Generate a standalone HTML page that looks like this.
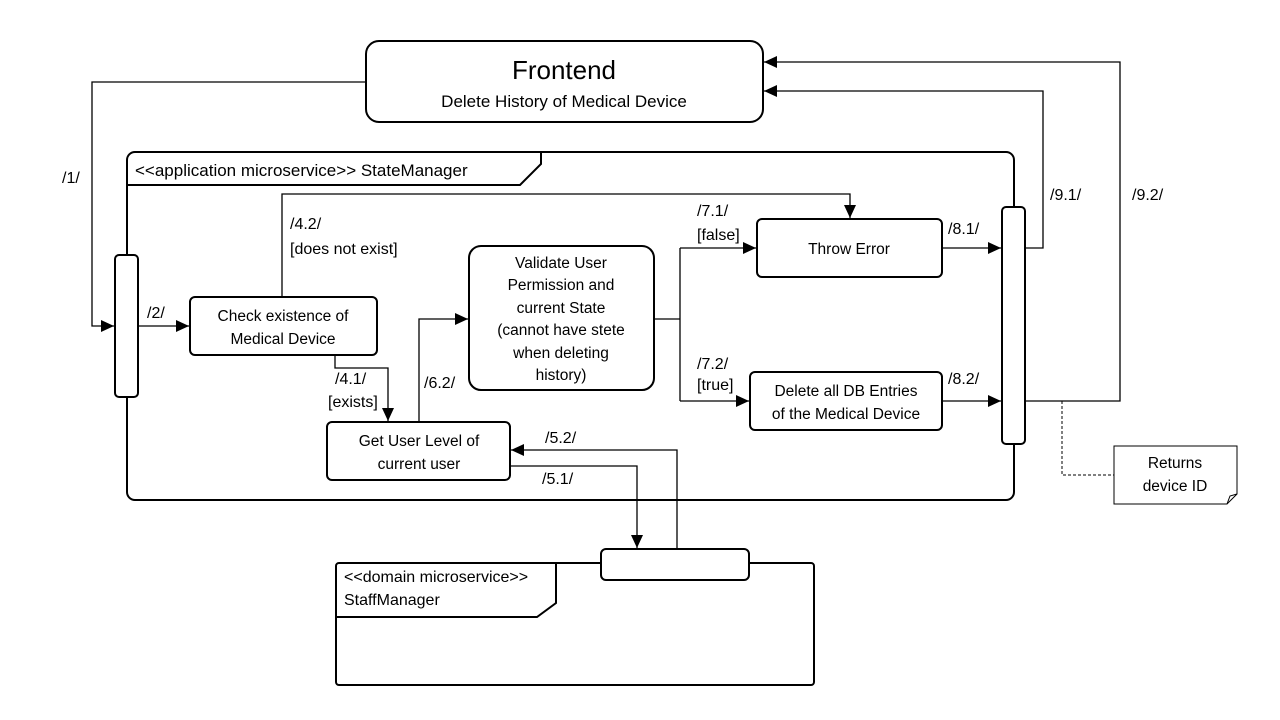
<!DOCTYPE html>
<html><head><meta charset="utf-8"><style>
html,body{margin:0;padding:0;background:#fff;width:1280px;height:720px;overflow:hidden}
svg{display:block}
text{font-family:"Liberation Sans",sans-serif;fill:#000}
</style></head><body>
<svg width="1280" height="720" viewBox="0 0 1280 720" xmlns="http://www.w3.org/2000/svg">
<defs>
<marker id="a" markerWidth="13" markerHeight="12" refX="13" refY="6" orient="auto" markerUnits="userSpaceOnUse">
<path d="M0,0 L13,6 L0,12 z" fill="#000"/></marker>
</defs>
<g fill="none" stroke="#000">
<rect x="366" y="41" width="397" height="81" rx="13" stroke-width="2" fill="#fff"/>
<rect x="127" y="152" width="887" height="348" rx="8" stroke-width="2"/>
<path d="M127,185 H520 L541,164 V152" stroke-width="2"/>
<rect x="115" y="255" width="23" height="142" rx="4" stroke-width="2" fill="#fff"/>
<rect x="1002" y="207" width="23" height="237" rx="4" stroke-width="2" fill="#fff"/>
<rect x="190" y="297" width="187" height="58" rx="5" stroke-width="2"/>
<rect x="469" y="246" width="185" height="144" rx="12" stroke-width="2"/>
<rect x="757" y="219" width="185" height="58" rx="5" stroke-width="2"/>
<rect x="750" y="372" width="192" height="58" rx="5" stroke-width="2"/>
<rect x="327" y="422" width="183" height="58" rx="5" stroke-width="2"/>
<rect x="336" y="563" width="478" height="122" rx="3" stroke-width="2"/>
<path d="M336,617 H537 L556,603 V563" stroke-width="2"/>
<rect x="601" y="549" width="148" height="31" rx="5" stroke-width="2" fill="#fff"/>
<path d="M1114,446 H1237 V494 L1227,504 H1114 Z" stroke-width="1"/>
<path d="M1227,504 L1230,496 L1237,494" stroke-width="1"/>
<path d="M1062,401 V475 H1114" stroke-width="1" stroke-dasharray="3,2"/>
<g stroke-width="1.3">
<path d="M366,82 H92 V326 H114" marker-end="url(#a)"/>
<path d="M138,326 H189" marker-end="url(#a)"/>
<path d="M282,297 V194 H850 V218" marker-end="url(#a)"/>
<path d="M335,355 V368 H388 V421" marker-end="url(#a)"/>
<path d="M419,422 V319 H468" marker-end="url(#a)"/>
<path d="M654,319 H680"/>
<path d="M680,248 V401"/>
<path d="M680,248 H756" marker-end="url(#a)"/>
<path d="M680,401 H749" marker-end="url(#a)"/>
<path d="M942,248 H1001" marker-end="url(#a)"/>
<path d="M942,401 H1001" marker-end="url(#a)"/>
<path d="M1025,248 H1043 V91 H764" marker-end="url(#a)"/>
<path d="M1025,401 H1120 V62 H764" marker-end="url(#a)"/>
<path d="M677,548 V450 H511" marker-end="url(#a)"/>
<path d="M510,466 H637 V548" marker-end="url(#a)"/>
</g>
</g>
<text x="564" y="79" font-size="26" text-anchor="middle">Frontend</text>
<text x="564" y="107" font-size="17" text-anchor="middle">Delete History of Medical Device</text>
<text x="135" y="176" font-size="17">&lt;&lt;application microservice&gt;&gt; StateManager</text>
<g font-size="15.5" text-anchor="middle">
<text x="283" y="321">Check existence of</text>
<text x="283" y="344">Medical Device</text>
<text x="561" y="268">Validate User</text>
<text x="561" y="290">Permission and</text>
<text x="561" y="313">current State</text>
<text x="561" y="335">(cannot have stete</text>
<text x="561" y="358">when deleting</text>
<text x="561" y="380">history)</text>
<text x="849" y="254">Throw Error</text>
<text x="846" y="396">Delete all DB Entries</text>
<text x="846" y="419">of the Medical Device</text>
<text x="419" y="446">Get User Level of</text>
<text x="419" y="469">current user</text>
<text x="1175" y="468">Returns</text>
<text x="1175" y="491">device ID</text>
</g>
<g font-size="16">
<text x="62" y="183">/1/</text>
<text x="147" y="318">/2/</text>
<text x="290" y="229">/4.2/</text>
<text x="290" y="254">[does not exist]</text>
<text x="335" y="384">/4.1/</text>
<text x="328" y="407">[exists]</text>
<text x="424" y="388">/6.2/</text>
<text x="697" y="216">/7.1/</text>
<text x="697" y="240">[false]</text>
<text x="697" y="369">/7.2/</text>
<text x="697" y="390">[true]</text>
<text x="948" y="234">/8.1/</text>
<text x="948" y="384">/8.2/</text>
<text x="1050" y="200">/9.1/</text>
<text x="1132" y="200">/9.2/</text>
<text x="545" y="443">/5.2/</text>
<text x="542" y="484">/5.1/</text>
<text x="344" y="582">&lt;&lt;domain microservice&gt;&gt;</text>
<text x="344" y="605">StaffManager</text>
</g>
</svg>
</body></html>
